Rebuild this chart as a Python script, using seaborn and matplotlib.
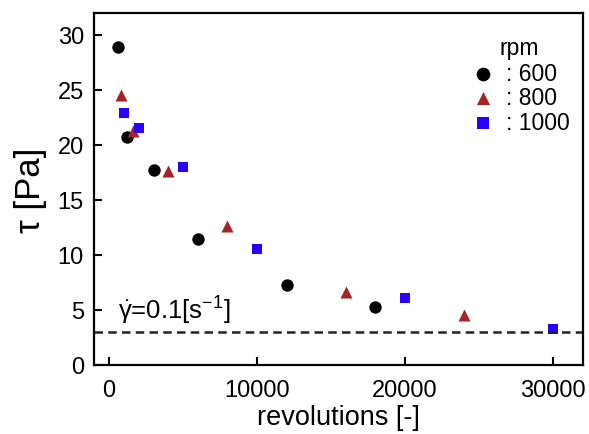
import pandas as pd
import seaborn as sns
import matplotlib.pyplot as plt

# revolutions and shear stress for each rotation speed
rev_600 = [600, 1200, 3000, 6000, 12000, 18000]
tau_600 = [28.9, 20.75, 17.7, 11.45, 7.3, 5.25]
rev_800 = [800, 1600, 4000, 8000, 16000, 24000]
tau_800 = [24.5, 21.3, 17.6, 12.65, 6.6, 4.5]
rev_1000 = [1000, 2000, 5000, 10000, 20000, 30000]
tau_1000 = [22.9, 21.5, 18.0, 10.55, 6.1, 3.3]
rpm_labels = [': 600', ': 800', ': 1000']
tau_limit = 3.0

sns.set_style('ticks', {'xtick.direction': 'in', 'ytick.direction': 'in',
                        'axes.edgecolor': 'black', 'text.color': 'black',
                        'axes.labelcolor': 'black', 'xtick.color': 'black',
                        'ytick.color': 'black'})
plt.rcParams['font.family'] = ['Liberation Sans', 'DejaVu Sans']
plt.rcParams['mathtext.fontset'] = 'custom'
plt.rcParams['mathtext.rm'] = 'Liberation Sans'
plt.rcParams['mathtext.it'] = 'Liberation Sans:italic'

df = pd.concat([
    pd.DataFrame({'rev': rev_600, 'tau': tau_600, 'rpm': rpm_labels[0]}),
    pd.DataFrame({'rev': rev_800, 'tau': tau_800, 'rpm': rpm_labels[1]}),
    pd.DataFrame({'rev': rev_1000, 'tau': tau_1000, 'rpm': rpm_labels[2]}),
])

fig = plt.figure(figsize=(5.89, 4.35), dpi=100)
ax = fig.add_axes([0.159, 0.159, 0.831, 0.809])

palette = {rpm_labels[0]: 'black', rpm_labels[1]: '#a52424', rpm_labels[2]: '#2a00ff'}
markers = {rpm_labels[0]: 'o', rpm_labels[1]: '^', rpm_labels[2]: 's'}
sizes = {rpm_labels[0]: 80, rpm_labels[1]: 75, rpm_labels[2]: 55}
for lab in rpm_labels:
    sns.scatterplot(data=df[df['rpm'] == lab], x='rev', y='tau', color=palette[lab],
                    marker=markers[lab], s=sizes[lab], linewidth=0, label=lab, ax=ax)

ax.axhline(tau_limit, color='#222222', ls=(0, (3.4, 2.1)), lw=1.8)
ax.text(0.05, 0.13, r'$\dot{\mathrm{\gamma}}$=0.1[s$^{-1}$]', transform=ax.transAxes,
        fontsize=18.5, ha='left', va='baseline')

ax.set_xlim(-1050, 32050)
ax.set_ylim(0, 32)
ax.set_xticks([0, 10000, 20000, 30000])
ax.set_yticks([0, 5, 10, 15, 20, 25, 30])
ax.tick_params(direction='in', length=6, width=1.5, labelsize=17)
ax.tick_params(axis='x', pad=10)
ax.tick_params(axis='y', pad=7)
for sp in ax.spines.values():
    sp.set_linewidth(1.6)
ax.set_xlabel('revolutions [-]', fontsize=19.5, labelpad=2)
ax.set_ylabel('τ [Pa]', fontsize=25, labelpad=8)

leg = ax.legend(title='rpm', frameon=False, loc='upper right', fontsize=16.5,
                title_fontsize=16.5, handlelength=1.2, handletextpad=0.4,
                labelspacing=0.07, borderpad=0, borderaxespad=0, markerscale=1.1,
                bbox_to_anchor=(0.972, 0.935))
leg._legend_box.sep = 2

fig.savefig('out.png', dpi=100)
plt.close(fig)
